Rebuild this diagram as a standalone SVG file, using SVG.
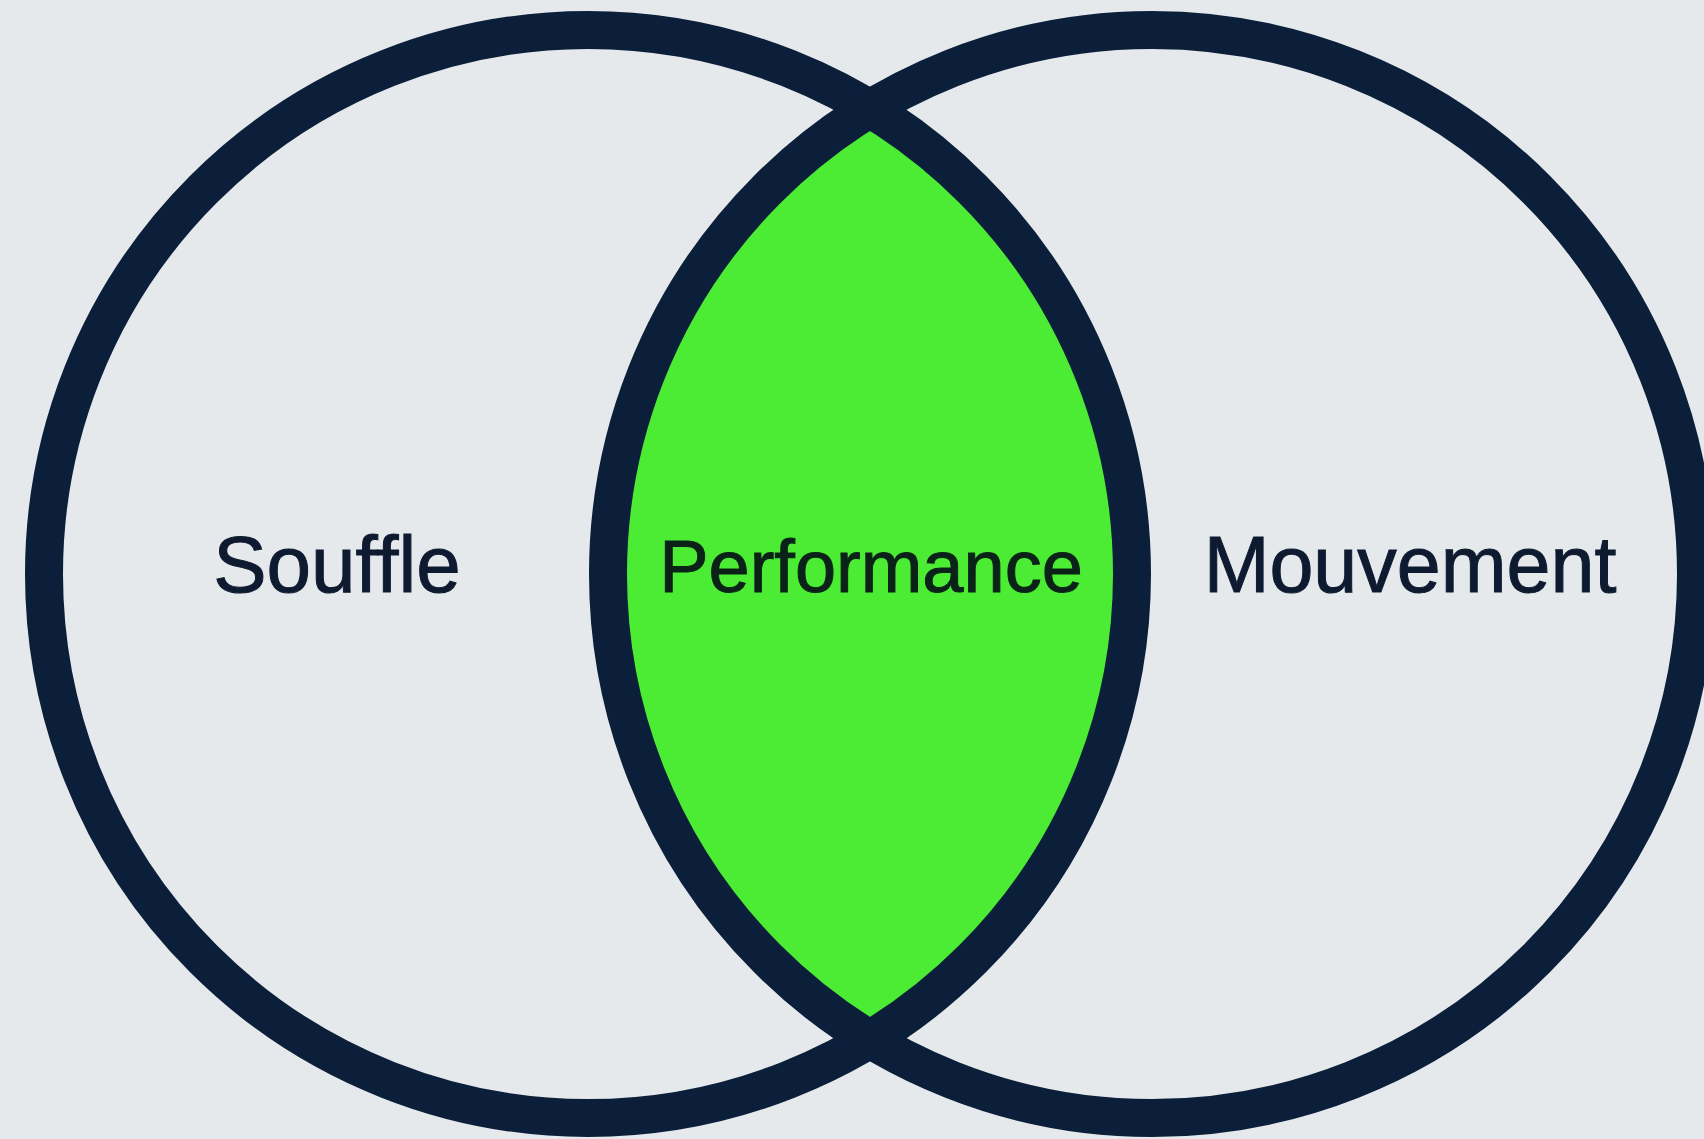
<svg xmlns="http://www.w3.org/2000/svg" width="1704" height="1139" viewBox="0 0 1704 1139">
  <style>
    .ring { fill: none; stroke: #0b1f3b; stroke-width: 38; }
    .label { font-family: "Liberation Sans", Arial, Helvetica, sans-serif; fill: #0d1a2f; stroke: #0d1a2f; stroke-width: 1; text-anchor: middle; }
  </style>
  <rect x="0" y="0" width="1704" height="1139" fill="#e5e9eb"/>
  <g id="performance-lens">
    <path d="M 870 108.8 A 544 544 0 0 1 870 1039.2 A 544 544 0 0 1 870 108.8 Z" fill="#4cec34"/>
  </g>
  <g id="souffle">
    <circle class="ring" cx="588" cy="574" r="544"/>
    <text class="label" x="337" y="592" font-size="80">Souffle</text>
  </g>
  <g id="mouvement">
    <circle class="ring" cx="1152" cy="574" r="544"/>
    <text class="label" x="1410" y="592" font-size="79">Mouvement</text>
  </g>
  <g id="performance">
    <text class="label" x="871" y="592" font-size="74" style="fill:#0a2218;stroke:#0a2218">Performance</text>
  </g>
</svg>
